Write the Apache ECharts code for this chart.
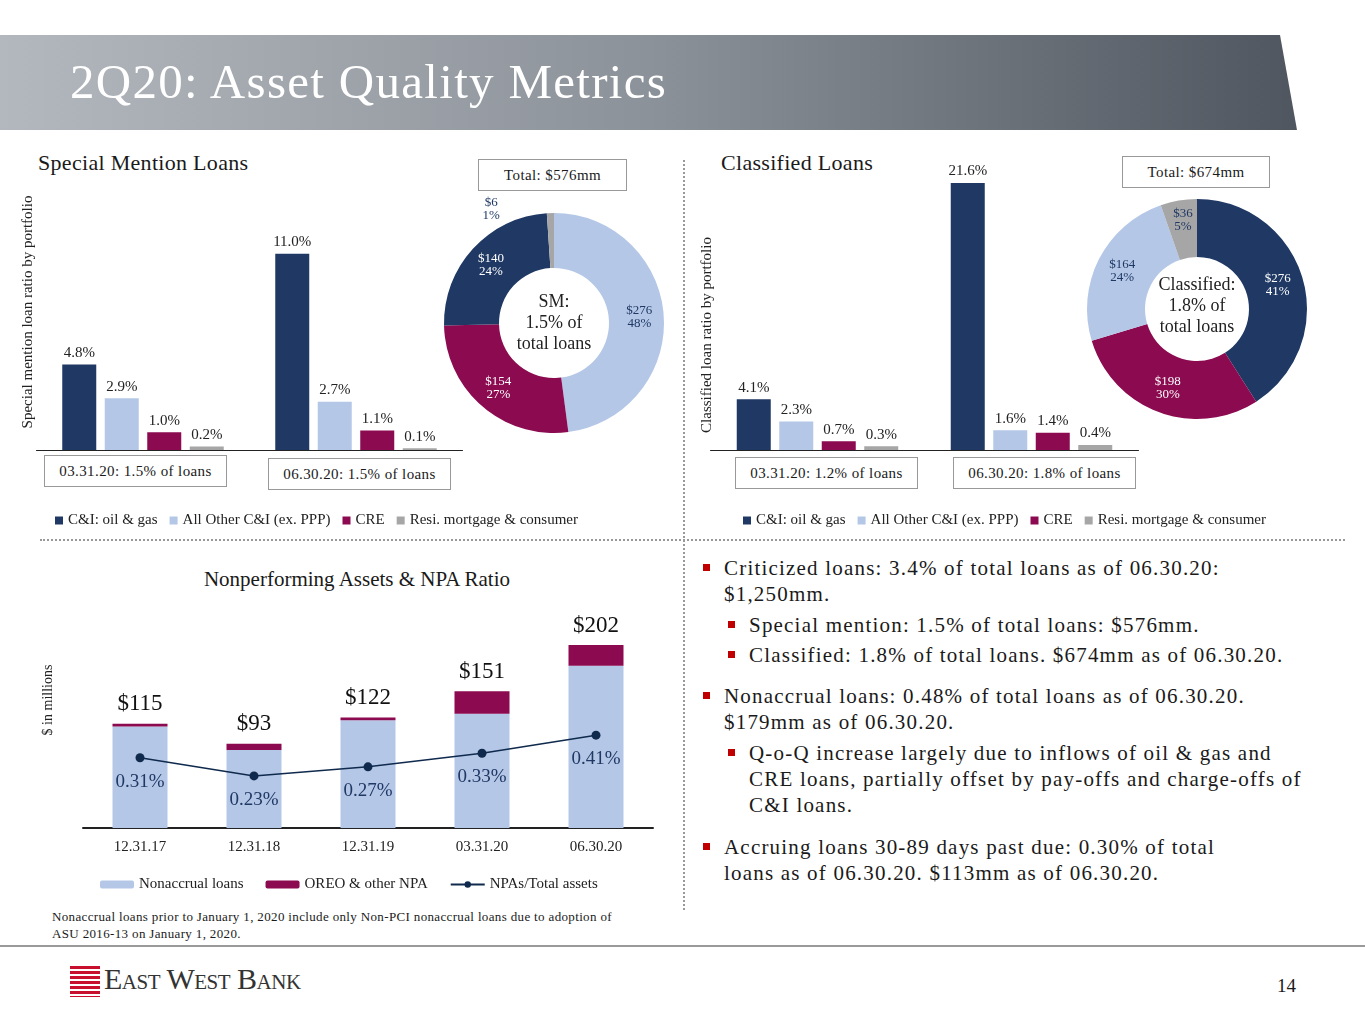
<!DOCTYPE html>
<html>
<head>
<meta charset="utf-8">
<script src="https://cdn.jsdelivr.net/npm/echarts@6/dist/echarts.min.js"></script>
<style>
body{margin:0;width:1365px;height:1024px;background:#fff;font-family:"Liberation Serif",serif;color:#1a1a1a;overflow:hidden}
#chart{position:absolute;left:0;top:0;width:1365px;height:1024px}
.abs{position:absolute;white-space:nowrap}
#banner{position:absolute;left:0;top:35px;width:1297px;height:95px;background:linear-gradient(90deg,#b3b8be 0%,#8c9299 50%,#4f565f 100%);clip-path:polygon(0 0,1280px 0,1297px 95px,0 95px)}
#banner span{position:absolute;left:70px;top:18px;color:#fff;font-size:49px;letter-spacing:1.3px}
.box{position:absolute;border:1px solid #999;font-size:15px;text-align:center;line-height:30px;height:30px;background:#fff;letter-spacing:0.4px}
.bul{position:absolute;font-size:21px;line-height:26px;white-space:nowrap;letter-spacing:1.2px}
.bul:before{content:"";position:absolute;left:-21px;top:9px;width:7px;height:7px;background:#c00000}
.sec{font-size:22px;letter-spacing:0.3px}
</style>
</head>
<body>
<div id="banner"><span>2Q20: Asset Quality Metrics</span></div>
<div class="abs sec" style="left:38px;top:150px">Special Mention Loans</div>
<div class="abs sec" style="left:721px;top:150px">Classified Loans</div>
<div class="box" style="left:478px;top:159px;width:147px">Total: $576mm</div>
<div class="box" style="left:1122px;top:156px;width:146px">Total: $674mm</div>
<div class="box" style="left:44px;top:455px;width:181px">03.31.20: 1.5% of loans</div>
<div class="box" style="left:268px;top:458px;width:181px">06.30.20: 1.5% of loans</div>
<div class="box" style="left:735px;top:457px;width:181px">03.31.20: 1.2% of loans</div>
<div class="box" style="left:953px;top:457px;width:181px">06.30.20: 1.8% of loans</div>
<div class="abs" style="left:683px;top:160px;height:750px;border-left:2px dotted #999"></div>
<div class="abs" style="left:40px;top:539px;width:1305px;border-top:2px dotted #999"></div>
<div class="abs" style="left:0;top:567px;width:714px;text-align:center;font-size:21px;letter-spacing:0px">Nonperforming Assets &amp; NPA Ratio</div>

<div class="bul" style="left:724px;top:555px">Criticized loans: 3.4% of total loans as of 06.30.20:<br>$1,250mm.</div>
<div class="bul" style="left:749px;top:612px">Special mention: 1.5% of total loans: $576mm.</div>
<div class="bul" style="left:749px;top:642px">Classified: 1.8% of total loans. $674mm as of 06.30.20.</div>
<div class="bul" style="left:724px;top:683px">Nonaccrual loans: 0.48% of total loans as of 06.30.20.<br>$179mm as of 06.30.20.</div>
<div class="bul" style="left:749px;top:740px">Q-o-Q increase largely due to inflows of oil &amp; gas and<br>CRE loans, partially offset by pay-offs and charge-offs of<br>C&amp;I loans.</div>
<div class="bul" style="left:724px;top:834px">Accruing loans 30-89 days past due: 0.30% of total<br>loans as of 06.30.20. $113mm as of 06.30.20.</div>

<div class="abs" style="left:52px;top:908px;font-size:13px;line-height:17px;letter-spacing:0.35px">Nonaccrual loans prior to January 1, 2020 include only Non-PCI nonaccrual loans due to adoption of<br>ASU 2016-13 on January 1, 2020.</div>
<div class="abs" style="left:0;top:945px;width:1365px;border-top:2px solid #999"></div>
<div class="abs" style="left:70px;top:966px;width:30px;height:31px;background:repeating-linear-gradient(180deg,#c8102e 0 3px,#fff 3px 5px)"></div>
<div class="abs" style="left:104px;top:962px;font-size:30px;color:#333;font-variant:small-caps;letter-spacing:-0.5px">East West Bank</div>
<div class="abs" style="left:1277px;top:975px;font-size:19px">14</div>
<div id="chart"></div>
<script>
var names = ['C&I: oil & gas', 'All Other C&I (ex. PPP)', 'CRE', 'Resi. mortgage & consumer'];
var colors = ['#1f3864', '#b4c7e7', '#8b0a50', '#a6a6a6'];
var periods = ['03.31.20', '06.30.20'];
var smRatio = [[4.8, 11.0], [2.9, 2.7], [1.0, 1.1], [0.2, 0.1]];
var clRatio = [[4.1, 21.6], [2.3, 1.6], [0.7, 1.4], [0.3, 0.4]];
var smPie = [276, 154, 140, 6];
var smPct = [48, 27, 24, 1];
var smPieColors = ['#b4c7e7', '#8b0a50', '#1f3864', '#a6a6a6'];
var clPie = [276, 198, 164, 36];
var clPct = [41, 30, 24, 5];
var clPieColors = ['#1f3864', '#8b0a50', '#b4c7e7', '#a6a6a6'];
var npaDates = ['12.31.17', '12.31.18', '12.31.19', '03.31.20', '06.30.20'];
var nonaccrual = [112, 86, 119, 126, 179];
var oreo = [3, 7, 3, 25, 23];
var npaTotal = [115, 93, 122, 151, 202];
var npaRatio = [0.31, 0.23, 0.27, 0.33, 0.41];

var serif = 'Liberation Serif';
var chart = echarts.init(document.getElementById('chart'));

function barSeries(data, axis) {
    return data.map(function (vals, i) {
        return {
            name: names[i], type: 'bar', xAxisIndex: axis, yAxisIndex: axis,
            data: vals, barWidth: 34, barGap: '25%', itemStyle: {color: colors[i]},
            label: {show: true, position: 'top', distance: 4, fontFamily: serif, fontSize: 15, color: '#222',
                formatter: function (p) { return p.value.toFixed(1) + '%'; }}
        };
    });
}
function pieData(vals, pcts, cols, textCols) {
    return vals.map(function (v, i) {
        return {value: v, pct: pcts[i], itemStyle: {color: cols[i]}, label: {color: textCols[i]}};
    });
}
var smData = pieData(smPie, smPct, smPieColors, ['#1f3864', '#fff', '#fff', '#1f3864']);
smData[3].label.offset = [-60, -28];
var clData = pieData(clPie, clPct, clPieColors, ['#fff', '#fff', '#1f3864', '#1f3864']);
clData[3].label.offset = [0, -6];
var pieLabel = {show: true, position: 'inside', fontFamily: serif, fontSize: 13, lineHeight: 13,
    formatter: function (p) { return '$' + p.value + '\n' + p.data.pct + '%'; }};

var legendText = {fontFamily: serif, fontSize: 15, color: '#222', letterSpacing: 0.4};
var series = barSeries(smRatio, 0).concat(barSeries(clRatio, 1));
series.push({type: 'pie', center: [554, 323], radius: [55, 110], startAngle: 90, clockwise: true,
    label: pieLabel, labelLine: {show: false}, data: smData, silent: true});
series.push({type: 'pie', center: [1197, 309], radius: [52, 110], startAngle: 90, clockwise: true,
    label: pieLabel, labelLine: {show: false}, data: clData, silent: true});
series.push({name: 'Nonaccrual loans', type: 'bar', stack: 'npa', xAxisIndex: 2, yAxisIndex: 2,
    data: nonaccrual, barWidth: 55, itemStyle: {color: '#b4c7e7'}});
series.push({name: 'OREO & other NPA', type: 'bar', stack: 'npa', xAxisIndex: 2, yAxisIndex: 2,
    data: oreo, barWidth: 55, itemStyle: {color: '#8b0a50'},
    label: {show: true, position: 'top', distance: 8, fontFamily: serif, fontSize: 23, color: '#111',
        formatter: function (p) { return '$' + npaTotal[p.dataIndex]; }}});
series.push({name: 'NPAs/Total assets', type: 'line', xAxisIndex: 2, yAxisIndex: 3, data: npaRatio,
    symbol: 'circle', symbolSize: 9, lineStyle: {color: '#0f2a4d', width: 1.5}, itemStyle: {color: '#0f2a4d'},
    label: {show: true, position: 'bottom', distance: 10, fontFamily: serif, fontSize: 19, color: '#1f3864',
        formatter: function (p) { return p.value.toFixed(2) + '%'; }}});

var hiddenY = {type: 'value', min: 0, axisLine: {show: false}, axisTick: {show: false},
    axisLabel: {show: false}, splitLine: {show: false}};
var catX = {type: 'category', axisTick: {show: false}, axisLabel: {show: false},
    axisLine: {lineStyle: {color: '#222', width: 1}}};
function vText(txt, x, y, size) {
    return {type: 'text', x: x, y: y, rotation: Math.PI / 2,
        style: {text: txt, fontFamily: serif, fontSize: size, fill: '#222', align: 'center', verticalAlign: 'middle'}};
}

chart.setOption({
    animation: false,
    grid: [
        {left: 36.5, width: 426, top: 236, height: 214},
        {left: 710.5, width: 428, top: 178, height: 272},
        {left: 83, width: 570, top: 601.5, height: 226.5}
    ],
    xAxis: [
        Object.assign({}, catX, {gridIndex: 0, data: periods}),
        Object.assign({}, catX, {gridIndex: 1, data: periods}),
        Object.assign({}, catX, {gridIndex: 2, data: npaDates,
            axisLine: {lineStyle: {color: '#222', width: 2}},
            axisLabel: {show: true, fontFamily: serif, fontSize: 15, color: '#222', margin: 12}})
    ],
    yAxis: [
        Object.assign({}, hiddenY, {gridIndex: 0, max: 12}),
        Object.assign({}, hiddenY, {gridIndex: 1, max: 22}),
        Object.assign({}, hiddenY, {gridIndex: 2, max: 250}),
        Object.assign({}, hiddenY, {gridIndex: 2, max: 1.0, position: 'right'})
    ],
    legend: [
        {left: 50, top: 508, data: names, icon: 'rect', itemWidth: 8, itemHeight: 8, itemGap: 12, textStyle: legendText, selectedMode: false},
        {left: 738, top: 508, data: names, icon: 'rect', itemWidth: 8, itemHeight: 8, itemGap: 12, textStyle: legendText, selectedMode: false},
        {left: 95, top: 872, data: ['Nonaccrual loans', 'OREO & other NPA', 'NPAs/Total assets'],
            itemWidth: 34, itemHeight: 8, itemGap: 22, textStyle: legendText, selectedMode: false}
    ],
    graphic: [
        vText('Special mention loan ratio by portfolio', 28, 312, 15),
        vText('Classified loan ratio by portfolio', 707, 335, 15),
        vText('$ in millions', 48, 700, 14),
        {type: 'text', x: 554, y: 323, style: {text: 'SM:\n1.5% of\ntotal loans', fontFamily: serif, fontSize: 18,
            lineHeight: 21, fill: '#222', align: 'center', verticalAlign: 'middle'}},
        {type: 'text', x: 1197, y: 306, style: {text: 'Classified:\n1.8% of\ntotal loans', fontFamily: serif, fontSize: 18,
            lineHeight: 21, fill: '#222', align: 'center', verticalAlign: 'middle'}}
    ],
    series: series
});
</script>
</body>
</html>
